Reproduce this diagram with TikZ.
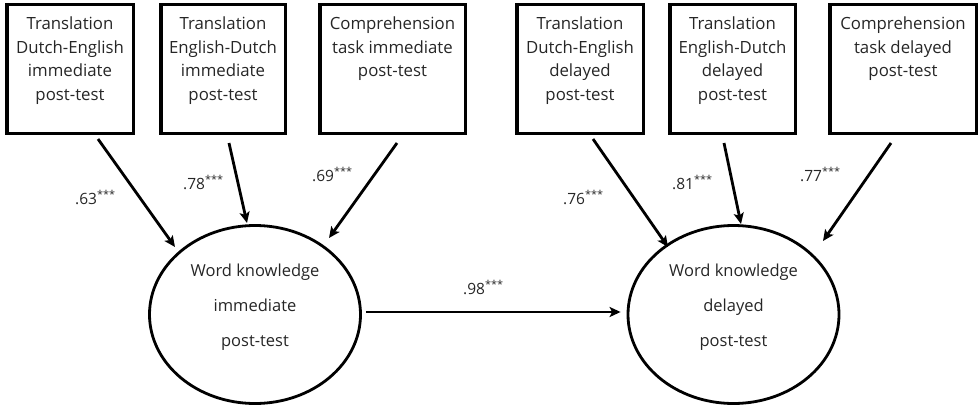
\documentclass[tikz,border=0pt]{standalone}
\usepackage{fontspec}
\setmainfont{Open Sans}
\usetikzlibrary{arrows.meta,calc,shapes.geometric}
\definecolor{txt}{HTML}{262626}
\begin{document}
\begin{tikzpicture}[x=1pt,y=-1pt,
 box/.style={draw,line width=3.5pt,minimum height=128.5pt,inner sep=0pt},
 btext/.style={anchor=north,align=center,inner sep=0pt,text=txt,font=\fontsize{16.8}{23.5}\selectfont},
 lat/.style={draw,ellipse,line width=2.8pt,minimum width=211pt,minimum height=178pt,inner sep=0pt},
 ltext/.style={align=center,inner sep=0pt,text=txt,font=\fontsize{16.5}{35}\selectfont},
 arr/.style={line width=2.8pt,-{Stealth[length=11pt,width=10pt,inset=2.5pt]}},
 coef/.style={anchor=base west,inner sep=0pt,text=txt,font=\fontsize{15.5}{16}\selectfont}]
\useasboundingbox (0,0) rectangle (979,409);
% boxes
\node[box,minimum width=126.5pt] (b1) at (70,69) {};
\node[box,minimum width=124.5pt] (b2) at (223,69) {};
\node[box,minimum width=145.5pt] (b3) at (392.5,69) {};
\node[box,minimum width=126.5pt] (b4) at (580,69) {};
\node[box,minimum width=125.5pt] (b5) at (732.5,69) {};
\node[box,minimum width=146.5pt] (b6) at (903,69) {};
\node[btext] (b1t) at (70,17) {Translation\\Dutch-English\\immediate\\post-test};
\node[btext] (b2t) at (223,17) {Translation\\English-Dutch\\immediate\\post-test};
\node[btext] (b3t) at (392.5,17) {Comprehension\\task immediate\\post-test};
\node[btext] (b4t) at (580,17) {Translation\\Dutch-English\\delayed\\post-test};
\node[btext] (b5t) at (732.5,17) {Translation\\English-Dutch\\delayed\\post-test};
\node[btext] (b6t) at (903,17) {Comprehension\\task delayed\\post-test};
% latent variables
\node[lat] (e1) at (255,314.5) {};
\node[lat] (e2) at (733.5,314.5) {};
\node[ltext] (e1t) at (255,307) {Word knowledge\\immediate\\post-test};
\node[ltext] (e2t) at (733.5,307) {Word knowledge\\delayed\\post-test};
% arrow targets
\coordinate (t1) at ($(e1)+(-80,-67.5)$);
\coordinate (t2) at ($(e1)+(-8,-91.5)$);
\coordinate (t3) at ($(e1)+(74,-76.5)$);
\coordinate (t4) at ($(e2)+(-65.5,-67.5)$);
\coordinate (t5) at ($(e2)+(7.5,-90.5)$);
\coordinate (t6) at ($(e2)+(89.5,-73.5)$);
% arrows
\draw[arr] ($(b1.south)+(28,4)$) -- (t1);
\draw[arr] ($(b2.south)+(6,8)$) -- (t2);
\draw[arr] ($(b3.south)+(4.5,8)$) -- (t3);
\draw[arr] ($(b4.south)+(13,4)$) -- (t4);
\draw[arr] ($(b5.south)+(-8.5,8)$) -- (t5);
\draw[arr] ($(b6.south)+(-12,8)$) -- (t6);
\draw[arr,shorten <=4pt,shorten >=6pt] (e1.east |- 0,312) -- (e2.west |- 0,312);
% coefficients
\node[coef] (c1) at (75,204) {.63\textsuperscript{***}};
\node[coef] (c2) at (183,189) {.78\textsuperscript{***}};
\node[coef] (c3) at (312,181) {.69\textsuperscript{***}};
\node[coef] (c4) at (463,294) {.98\textsuperscript{***}};
\node[coef] (c5) at (563,204) {.76\textsuperscript{***}};
\node[coef] (c6) at (672,189) {.81\textsuperscript{***}};
\node[coef] (c7) at (800,181) {.77\textsuperscript{***}};
\end{tikzpicture}
\end{document}
